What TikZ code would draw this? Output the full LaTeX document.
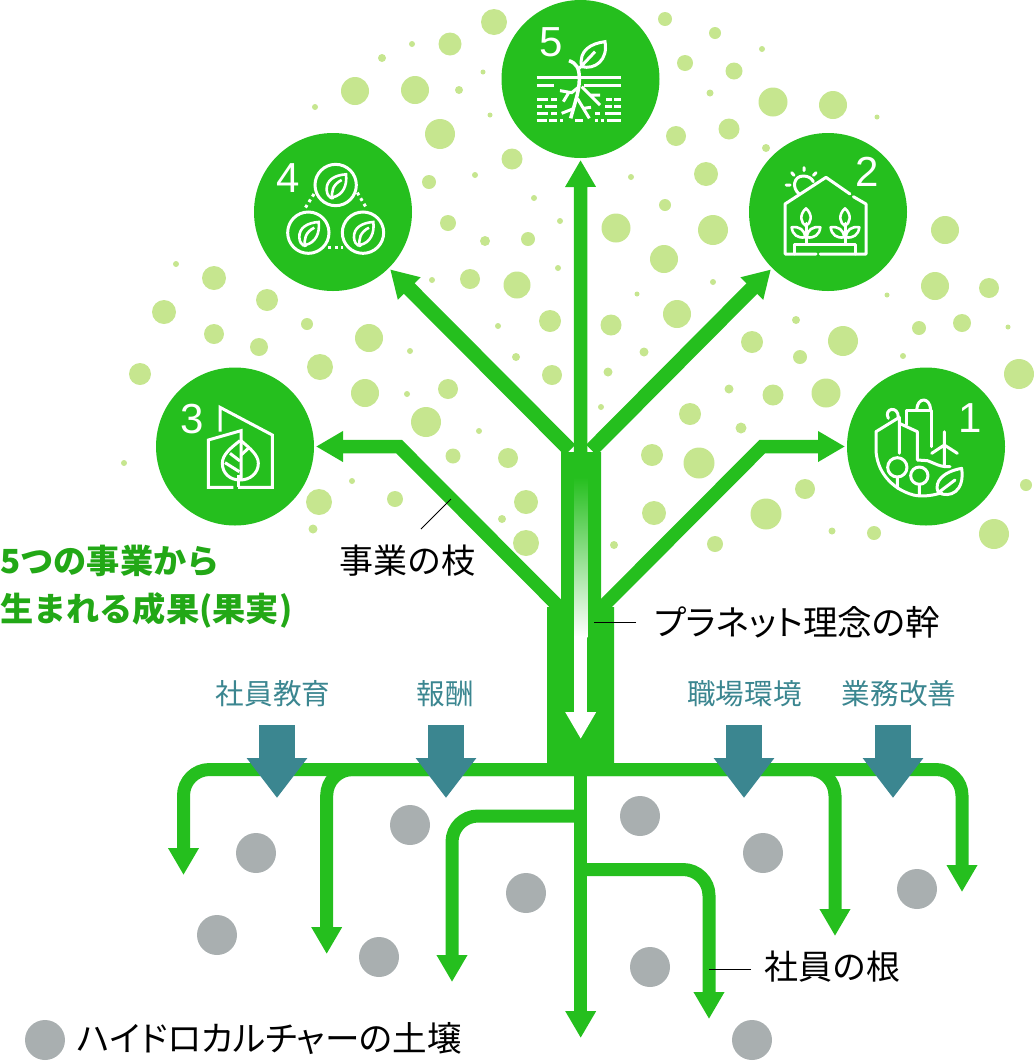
\documentclass[tikz,border=0pt]{standalone}
\usepackage{fontspec}
\usepackage{xcolor}
\usetikzlibrary{arrows.meta,shapes.geometric}
\setmainfont{Liberation Sans}
\newfontfamily\cjk{Noto Sans CJK JP}
\newfontfamily\cjkp[RawFeature=+palt]{Noto Sans CJK JP}
\definecolor{treegreen}{HTML}{25BF1E}
\definecolor{titlegreen}{HTML}{22A816}
\definecolor{dotgreen}{HTML}{C6E68F}
\definecolor{soilgrey}{HTML}{A9AFB0}
\definecolor{inflowteal}{HTML}{3B8690}

\begin{document}
\begin{tikzpicture}[
  x=1pt, y=-1pt,
  fruit/.style={circle, fill=treegreen, minimum size=158pt, inner sep=0pt, outer sep=2pt},
  digit/.style={text=white, inner sep=0pt, font=\fontsize{42}{42}\selectfont},
  brancharrow/.style={draw=treegreen, line width=15pt, -{Triangle[length=27pt,width=30pt]}},
  siderarrow/.style={draw=treegreen, line width=13.5pt, -{Triangle[length=27pt,width=29pt]}},
  rootarrow/.style={draw=treegreen, line width=13pt, rounded corners=26pt, -{Triangle[length=27pt,width=29pt]}},
  inflowarrow/.style={draw=inflowteal, line width=36pt, -{Triangle[length=40pt,width=58pt]}},
  iconline/.style={draw=white, line width=3pt},
  leader/.style={draw=black, line width=0.9pt},
  lab/.style={inner sep=0pt, font=\cjk\fontsize{34}{36}\selectfont},
  labp/.style={inner sep=0pt, font=\cjkp\fontsize{34.6}{36}\selectfont},
  inflowlab/.style={inner sep=0pt, text=inflowteal, font=\cjk\fontsize{28.6}{30}\selectfont},
  titlelab/.style={inner sep=0pt, anchor=west, text=titlegreen, font=\cjk\bfseries\fontsize{33.2}{36}\selectfont}
]
\useasboundingbox (0,0) rectangle (1034,1061);

% leaves
\foreach \x/\y/\r in {
  176/264/3, 214/278/12, 267/300/11, 164/312/12, 214/334/10, 307/324/6, 259/347/9,
  369/338/14, 320/367/13, 140/374/11, 432/280/3, 470/279/10, 517/285/13.5, 558/268/3,
  550/321/11, 498/326/3, 516/357/4, 552/375/10, 410/351/3, 407/394/3, 448/389/10,
  365/393/14, 426/422/15, 479/431/3, 453/456/7.5, 508/458/10, 124/463/3, 352/481/3,
  395/499/8, 319/502/13, 313/529/4.5, 526/502/12, 502/519/4, 526/543/13,
  494/22/13, 450/44/11.5, 412/44/3, 382/58/4, 355/91/14, 415/90/14, 459/90/4,
  483/72/2.5, 490/115/2.5, 315/107/3, 440/134/15, 512/159/10.5, 475/175/3, 429/182/7,
  534/198/3, 560/221/3, 448/223/8, 485/241/5, 528/239/7,
  665/19/7, 715/33/6, 762/49/3, 685/63/8, 734/71/8.5, 710/93/3.5, 773/102/14.5,
  833/105/14, 877/117/2.5, 676/136/10, 729/129/10.5, 766/148/4, 631/177/3, 706/174/12,
  665/205/6, 616/228/14.5, 713/230/15, 664/259/14, 713/282/3, 637/294/2.5, 677/314/14,
  611/325/10.5, 945/230/14, 935/286/14, 989/288/10, 887/295/2.5, 796/320/4, 919/328/7,
  962/323/9, 1008/327/2.5, 752/342/11, 843/341/15,
  644/352/4.5, 608/372/4.5, 601/407/3, 800/357/7, 903/356/3, 1019/374/15, 729/389/4.5,
  773/395/10.5, 826/393/14.5, 690/414/11, 741/428/5.5, 652/455/11, 699/463/15.5,
  805/489/10, 1026/485/6, 654/513/12, 766/514/15.5, 832/531/3.5, 874/533/7, 994/534/15,
  614/545/4, 715/544/8}
  \fill[dotgreen] (\x,\y) circle (\r pt);

% soil
\foreach \x/\y in {256/853, 217/935, 410/825, 526/893, 379/957, 640/816, 763/853, 917/889, 650/967, 752/1040, 45/1040}
  \fill[soilgrey] (\x,\y) circle (20pt);

% fruits
\node[fruit] (five) at (580.5,79) {};
\node[fruit] (four) at (333,212) {};
\node[fruit] (two) at (828,212) {};
\node[fruit] (three) at (235,446.5) {};
\node[fruit] (one) at (926,446.5) {};

\node[digit] (dfive) at (551,42) {5};
\node[digit] (dfour) at (288,178) {4};
\node[digit] (dtwo) at (867,172) {2};
\node[digit] (dthree) at (192,419) {3};
\node[digit] (done) at (970,418) {1};

% trunk
\coordinate (topc) at (580.7,452);
\coordinate (forkl) at (570,450);
\coordinate (forkr) at (591.4,450);
\coordinate (lowl) at (560,608);
\coordinate (lowr) at (601.4,608);
\coordinate (elbowl) at (399,446.5);
\coordinate (elbowr) at (762.4,446.5);

\draw[siderarrow] (topc) -- (five);
\draw[brancharrow] (forkl) -- (four);
\draw[brancharrow] (forkr) -- (two);
\draw[siderarrow] (lowl) -- (elbowl) -- (three);
\draw[siderarrow] (lowr) -- (elbowr) -- (one);

\fill[treegreen] (561,452) -- (601,452) -- (601,607) -- (614,607) -- (614,770) -- (547,770) -- (547,607) -- (561,607) -- cycle;
\shade[top color=treegreen, bottom color=white] (574,477) rectangle (587.4,637);
\coordinate (whites) at (580.7,636);
\coordinate (whitee) at (580.7,739);
\draw[draw=white, line width=13.4pt, -{Triangle[length=27pt,width=29pt]}] (whites) -- (whitee);

% roots
\coordinate (rootc) at (580.7,769.5);
\coordinate (rootm) at (580.7,816);
\coordinate (rootn) at (580.7,869.5);
\coordinate (tipa) at (183.5,875);
\coordinate (tipb) at (326.7,954);
\coordinate (tipc) at (452,982);
\coordinate (tipd) at (580.7,1038);
\coordinate (tipe) at (709,1019);
\coordinate (tipf) at (835,936);
\coordinate (tipg) at (962,892);

\draw[rootarrow] (rootc) -| (tipa);
\draw[rootarrow] (rootc) -| (tipb);
\draw[rootarrow] (rootm) -| (tipc);
\draw[rootarrow] (rootc) -- (tipd);
\draw[rootarrow] (rootn) -| (tipe);
\draw[rootarrow] (rootc) -| (tipf);
\draw[rootarrow] (rootc) -| (tipg);

% inflows
\foreach \name/\x in {a/277, b/446, c/744, d/893} {
  \coordinate (in\name) at (\x,725);
  \coordinate (out\name) at (\x,798);
  \draw[inflowarrow] (in\name) -- (out\name);
}

% labels
\node[titlelab] (title1) at (0,561) {5つの事業から};
\node[titlelab] (title2) at (0,610) {生まれる成果(果実)};
\node[lab] (lbranch) at (407,561) {事業の枝};
\node[labp, anchor=west] (ltrunk) at (654,622) {プラネット理念の幹};
\node[lab, anchor=west] (lroot) at (764,967) {社員の根};
\node[labp, anchor=west] (lsoil) at (77,1039) {ハイドロカルチャーの土壌};
\node[inflowlab] (ledu) at (273,694) {社員教育};
\node[inflowlab] (lpay) at (445,694) {報酬};
\node[inflowlab] (lenv) at (744.5,694) {職場環境};
\node[inflowlab] (limp) at (899,694) {業務改善};

\coordinate (cbranch) at (451,499);
\coordinate (ctrunk) at (594,622);
\coordinate (croot) at (709,969);
\draw[leader] ([xshift=14pt,yshift=16pt]lbranch.north) -- (cbranch);
\draw[leader] ([xshift=-18pt]ltrunk.west) -- (ctrunk);
\draw[leader] ([xshift=-13pt,yshift=-2pt]lroot.west) -- (croot);

% icon 5
\begin{scope}[shift={(480,0)},scale=1/3]
  \draw[iconline] (170,233) -- (423,233);
  \draw[iconline] (170,255) -- (222,255) (312,255) -- (423,255);
  \draw[iconline] (172,297) -- (205,297) (213,297) -- (232,297) (378,297) -- (396,297) (403,297) -- (423,297);
  \draw[iconline] (172,318) -- (186,318) (194,318) -- (232,318) (376,318) -- (395,318) (403,318) -- (423,318);
  \draw[iconline] (172,340) -- (205,340) (213,340) -- (232,340) (345,340) -- (360,340) (375,340) -- (423,340);
  \draw[iconline] (170,360) -- (200,360) (208,360) -- (232,360) (240,360) -- (250,360) (286,360) -- (308,360) (345,360) -- (355,360) (362,360) -- (372,360) (382,360) -- (423,360);
  \draw[iconline, line width=3.5pt] (267,182) .. controls (290,190) and (298,205) .. (298,235) .. controls (298,270) and (290,290) .. (272,355);
  \draw[iconline, line width=3pt] (240,272) -- (275,278) -- (295,262) (265,280) -- (250,305) (305,260) -- (330,285) -- (360,285) (330,285) -- (360,315) (292,295) -- (310,325) -- (328,355) (310,325) -- (333,322) (283,325) -- (245,340);
  \draw[iconline] (375,125) .. controls (335,130) and (295,150) .. (305,200) .. controls (345,210) and (385,180) .. (375,125) -- cycle (345,155) -- (298,205);
\end{scope}

% icon 4
\begin{scope}[shift={(240,120)},scale=1/3]
  \foreach \x/\y in {287/195, 205/338, 369/338} {
    \draw[iconline] (\x,\y) circle (62pt);
    \draw[iconline, line width=2.6pt] (\x+31,\y-32) .. controls (\x-2,\y-30) and (\x-29,\y-15) .. (\x-27,\y+15) .. controls (\x-26,\y+28) and (\x-20,\y+36) .. (\x-15,\y+38) -- (\x-9,\y+37) .. controls (\x+23,\y+30) and (\x+35,\y) .. (\x+31,\y-32) -- cycle;
    \draw[iconline, line width=2.6pt] (\x+18,\y-15) .. controls (\x-8,\y-2) and (\x-15,\y+20) .. (\x-9,\y+43);
  }
  \draw[iconline, dash pattern=on 3pt off 3.5pt] (222,222) -- (195,265);
  \draw[iconline, dash pattern=on 3pt off 3.5pt] (352,218) -- (380,265);
  \draw[iconline, dash pattern=on 3pt off 3.5pt] (265,383) -- (310,383);
\end{scope}

% icon 2
\begin{scope}[shift={(740,120)},scale=1/3,line cap=round,line join=round]
  \draw[iconline] (228,402) -- (135,402) -- (135,252) -- (258,172) -- (330,222);
  \draw[iconline] (340,230) -- (378,252) -- (378,402) -- (240,402);
  \draw[iconline] (163,402) -- (163,372) -- (347,372) -- (347,402);
  \draw[iconline] (178,222) .. controls (155,205) and (160,168) .. (190,168) .. controls (205,168) and (215,175) .. (220,185);
  \draw[iconline] (192,143) -- (192,152) (155,158) -- (162,166) (228,158) -- (220,166) (138,195) -- (150,195);
  \foreach \x in {198, 315} {
    \draw[iconline] (\x,372) -- (\x,310);
    \draw[iconline, line width=2.6pt] (\x,265) .. controls (\x-22,285) and (\x-15,310) .. (\x,318) .. controls (\x+15,310) and (\x+22,285) .. (\x,265) -- cycle;
    \draw[iconline, line width=2.6pt] (\x-43,322) .. controls (\x-20,318) and (\x-3,330) .. (\x-3,352) .. controls (\x-25,355) and (\x-40,345) .. (\x-43,322) -- cycle;
    \draw[iconline, line width=2.6pt] (\x+43,322) .. controls (\x+20,318) and (\x+3,330) .. (\x+3,352) .. controls (\x+25,355) and (\x+40,345) .. (\x+43,322) -- cycle;
  }
\end{scope}

% icon 3
\begin{scope}[shift={(140,360)},scale=1/3]
  \draw[iconline] (240,215) -- (240,142) -- (397,225) -- (397,382) -- (294,382);
  \draw[iconline] (280,382) -- (205,382) -- (205,240) -- (303,212) -- (303,360);
  \draw[iconline] (294,345) -- (294,382);
  \draw[iconline] (300,242) .. controls (270,265) and (247,285) .. (247,310) .. controls (247,340) and (270,360) .. (300,360) .. controls (330,360) and (355,340) .. (355,310) .. controls (355,285) and (330,265) .. (303,242);
  \draw[iconline] (255,308) -- (298,335) (270,280) -- (300,303) (303,285) -- (325,265);
\end{scope}

% icon 1
\begin{scope}[shift={(840,360)},scale=1/3,line cap=round,line join=round]
  \draw[iconline] (178,280) -- (178,172) -- (108,215) -- (108,270) .. controls (110,330) and (150,385) .. (220,405) .. controls (250,412) and (285,405) .. (305,398);
  \draw[iconline] (178,190) -- (232,215) -- (232,300) -- (262,302) .. controls (285,310) and (300,322) .. (330,320);
  \draw[iconline] (145,175) .. controls (130,145) and (175,135) .. (175,172);
  \draw[iconline] (200,195) -- (200,150) -- (275,150) -- (275,260);
  \draw[iconline] (230,150) .. controls (232,110) and (270,110) .. (272,150);
  \draw[iconline] (313,215) -- (313,320) (313,255) -- (275,280) (313,255) -- (352,280);
  \draw[iconline] (172,322) circle (29pt) (172,351) -- (172,385);
  \draw[iconline] (238,347) circle (26pt) (238,373) -- (238,405);
  \draw[iconline] (365,325) .. controls (310,335) and (280,365) .. (295,398) .. controls (330,415) and (375,395) .. (365,325) -- cycle (295,398) -- (345,360);
\end{scope}
\end{tikzpicture}
\end{document}
